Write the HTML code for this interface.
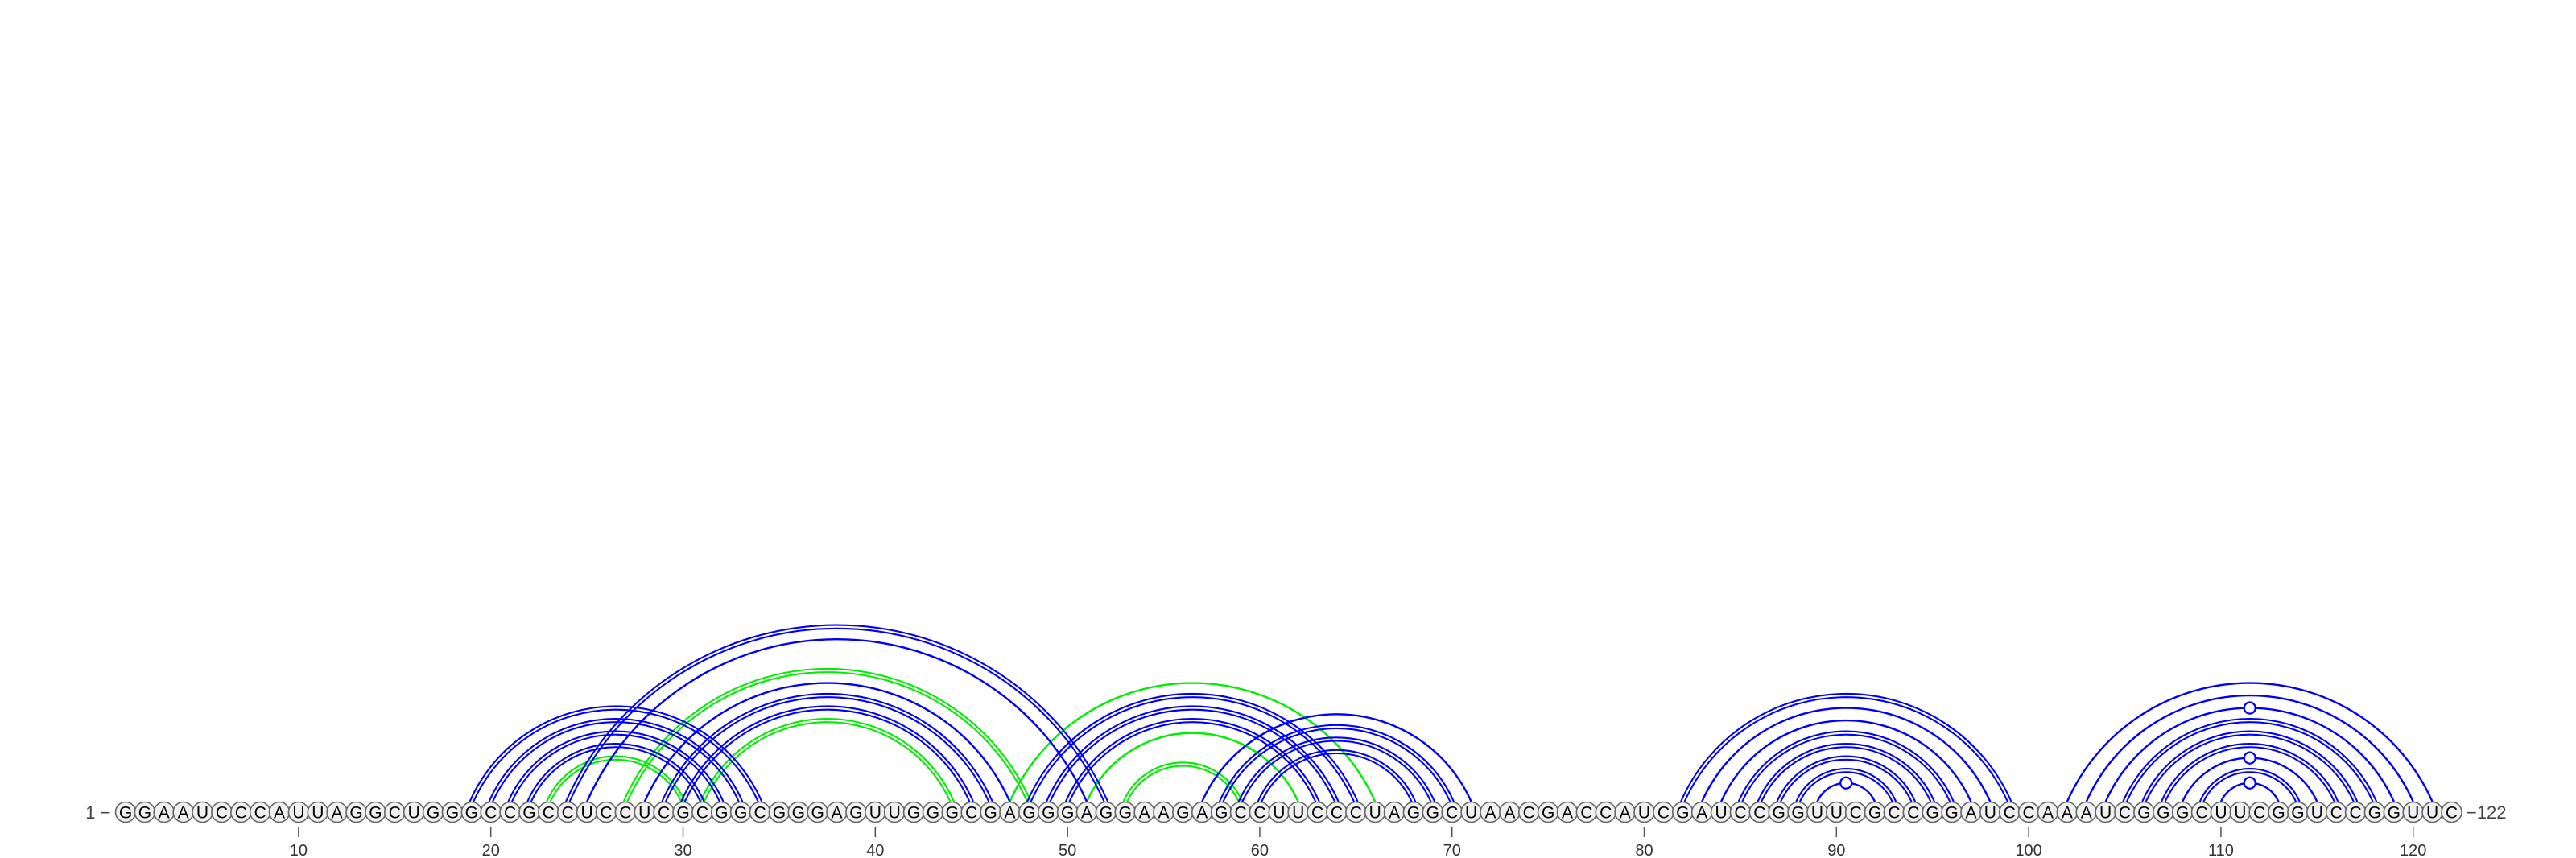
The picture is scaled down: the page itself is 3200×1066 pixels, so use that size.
<!DOCTYPE html>
<html><head><meta charset="utf-8"><style>
html,body{margin:0;padding:0;background:#fff;width:3200px;height:1066px;overflow:hidden}
svg{display:block}
text{font-family:"Liberation Sans",sans-serif}
</style></head><body>
<svg id="chart" width="3200" height="1066" xmlns="http://www.w3.org/2000/svg">
<g id="arcs"></g>
<g id="nts"></g>
<g id="axis"></g>
</svg>
<script>
const sequence = "GGAAUCCCAUUAGGCUGGGCCGCCUCCUCGCGGCGGGAGUUGGGCGAGGGAGGAAGAGCCUUCCCUAGGCUAACGACCAUCGAUCCGGUUCGCCGGAUCCAAAUCGGGCUUCGGUCCGGUUC";
const blueDouble = [[19,34],[20,33],[21,32],[22,31],[24,52],[29,46],[30,45],[48,65],[49,64],[50,63],[58,70],[59,69],[60,68],[82,99],[85,96],[86,95],[87,94],[88,93],[105,118],[106,117],[107,116],[109,114]];
const blueSingle = [[25,51],[28,47],[57,71],[83,98],[84,97],[89,92],[102,121],[103,120],[104,119],[108,115],[110,113]];
const greenDouble = [[23,30],[27,48],[31,44],[53,59]];
const greenSingle = [[47,66],[51,62]];
const markedArcs = [[89,92],[104,119],[108,115],[110,113]];
const tickLabels = [10,20,30,40,50,60,70,80,90,100,110,120];

const NS="http://www.w3.org/2000/svg";
const X0=156, DX=23.88, YC=1009, R0=12.5, Y0=996, RATIO=0.65;
function xp(p){return X0+(p-1)*DX;}
function mk(tag,attrs,parent){const e=document.createElementNS(NS,tag);for(const k in attrs)e.setAttribute(k,attrs[k]);parent.appendChild(e);return e;}
const arcsG=document.getElementById('arcs'), ntG=document.getElementById('nts'), axG=document.getElementById('axis');

function geom(i,j){const a=(xp(j)-xp(i))/2, s=RATIO*a, R=(a*a+s*s)/(2*s);return {cx:(xp(i)+xp(j))/2, cy:Y0+(R-s), R:R, s:s};}
function arcPath(g,r){const dy=g.cy-Y0;const h=Math.sqrt(Math.max(r*r-dy*dy,1));return `M${g.cx-h},${Y0} A${r},${r} 0 0 1 ${g.cx+h},${Y0}`;}
function drawArc(pair,color,dbl){
  const g=geom(pair[0],pair[1]);
  const rs=dbl?[g.R+2.1,g.R-2.1]:[g.R];
  rs.forEach(r=>{
    const p=mk('path',{d:arcPath(g,r),fill:'none',stroke:color,'stroke-width':dbl?2.1:2.4},arcsG);
    
    
  });
}
greenDouble.forEach(p=>drawArc(p,'#00ee00',true));
greenSingle.forEach(p=>drawArc(p,'#00ee00',false));
blueDouble.forEach(p=>drawArc(p,'#0000ff',true));
blueSingle.forEach(p=>drawArc(p,'#0000ff',false));
markedArcs.forEach(pr=>{
  const g=geom(pr[0],pr[1]);
  const c=mk('circle',{cx:g.cx,cy:Y0-g.s,r:7,fill:'#fff',stroke:'#0000ff','stroke-width':2.3},arcsG);
  
  
});

for(let i=0;i<sequence.length;i++){
  const x=xp(i+1);
  const c=mk('circle',{cx:x,cy:YC,r:R0,fill:'#f0f0f0',stroke:'#666','stroke-width':1.6},ntG);
  
  
  const t=mk('text',{x:x,y:YC+7.5,'text-anchor':'middle','font-size':21,fill:'#000'},ntG);
  t.textContent=sequence[i];
  
  
}
tickLabels.forEach(v=>{
  const x=xp(v);
  const l=mk('line',{x1:x,x2:x,y1:1027,y2:1040,stroke:'#555','stroke-width':1.5},axG);
  
  
  const t=mk('text',{x:x,y:1063,'text-anchor':'middle','font-size':20,fill:'#333'},axG);
  t.textContent=v;
  
  
});
const s=mk('text',{x:xp(1)-R0-6,y:YC+8,'text-anchor':'end','font-size':22,fill:'#444'},axG);
s.textContent='1 \u2212';


const e=mk('text',{x:xp(sequence.length)+R0+6,y:YC+8,'text-anchor':'start','font-size':22,fill:'#444'},axG);
e.textContent='\u2212122';


</script>
</body></html>
